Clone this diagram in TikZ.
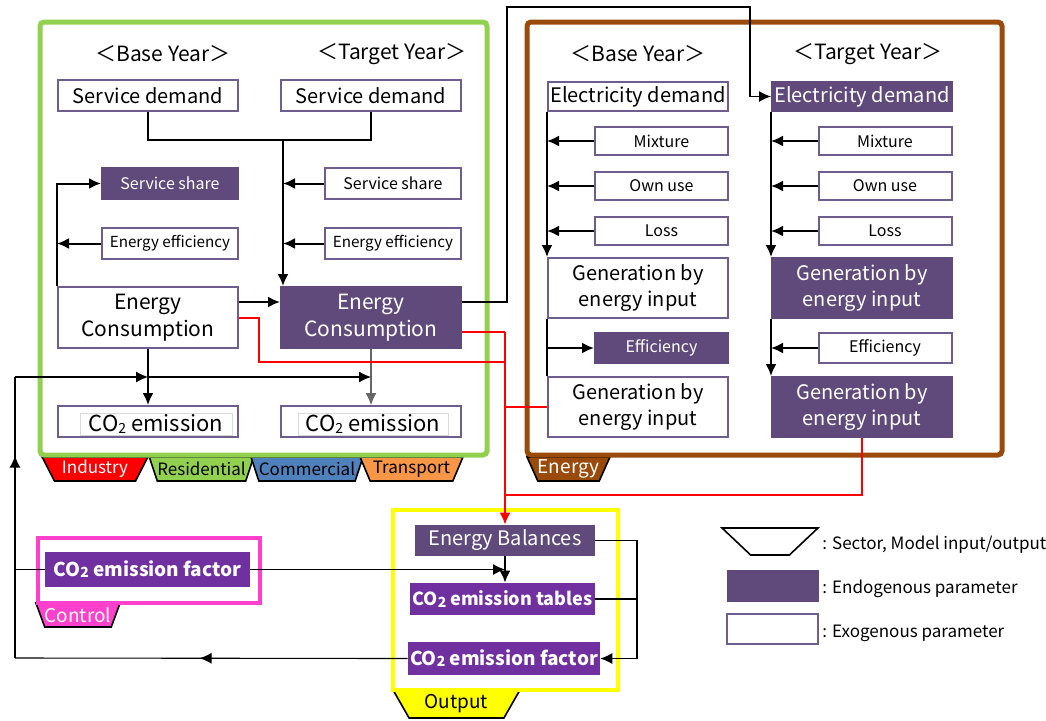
\documentclass[tikz,border=0pt]{standalone}
\usepackage{fontspec}
\setmainfont{Noto Sans CJK JP}
\usepackage{tikz}
\usetikzlibrary{arrows.meta,calc,shapes.geometric,decorations.markings}
\definecolor{secGreen}{HTML}{92D050}
\definecolor{enBrown}{HTML}{9A4A0A}
\definecolor{ctlPink}{HTML}{FF40CC}
\definecolor{outYellow}{HTML}{FFFF00}
\definecolor{parFill}{HTML}{5F4A7B}
\definecolor{parLine}{HTML}{705D90}
\definecolor{ctlPurple}{HTML}{7030A0}
\definecolor{tabBlue}{HTML}{4F81BD}
\definecolor{tabOrange}{HTML}{F79646}
\newcommand{\cotwo}{CO{\scriptsize\raisebox{-.15ex}{2}}}

\begin{document}
\begin{tikzpicture}[x=.5pt,y=-.5pt,font=\fontsize{10}{12}\selectfont]
  \tikzset{exo/.style={draw=parLine,line width=1pt,fill=white,inner sep=1pt,align=center},
    endo/.style={draw=parFill,line width=1pt,fill=parFill,text=white,inner sep=1pt,align=center},
    outp/.style={fill=ctlPurple,text=white,inner sep=1pt,font=\fontsize{9.5}{11}\selectfont\bfseries},
    small/.style={font=\fontsize{8}{9}\selectfont,minimum width=66.5pt,minimum height=14pt},
    tab/.style={trapezium,trapezium stretches=true,shape border rotate=180,trapezium angle=60,draw=black,line width=.8pt,inner sep=0pt,minimum height=12pt,font=\fontsize{8.5}{10}\selectfont},
    ln/.style={line width=1pt},
    thinln/.style={line width=.55pt},
    redln/.style={draw=red,line width=1pt},
    arr/.style={-{Latex[length=6pt,width=5.5pt]}},
    midarr/.style={postaction={decorate},decoration={markings,mark=at position #1 with {\arrow{Latex[length=6pt,width=5.5pt]}}}}}
  \useasboundingbox (0,0) rectangle (1046,720);

  % sector tabs and frames
  \node[tab,fill=red,text=white,minimum width=53pt] (tInd) at (95,469) {Industry};
  \node[tab,fill=secGreen,minimum width=52pt] (tRes) at (201.5,469) {Residential};
  \node[tab,fill=tabBlue,minimum width=51pt] (tCom) at (307,469) {Commercial};
  \node[tab,fill=tabOrange,minimum width=51.5pt] (tTra) at (411.5,469) {Transport};
  \node[tab,fill=enBrown,text=white,minimum width=41.5pt,font=\fontsize{9.5}{11}\selectfont] (tEn) at (568.5,469) {Energy};
  \node[tab,fill=ctlPink,text=white,minimum width=40pt,font=\fontsize{9.5}{11}\selectfont] (tCtl) at (78,615) {Control};
  \node[tab,fill=outYellow,minimum width=63.5pt,minimum height=14pt,font=\fontsize{9.5}{11}\selectfont] (tOut) at (456.5,704) {Output};
  \draw[secGreen,line width=2.5pt,rounded corners=2pt] (40,22) rectangle (487,455);
  \draw[enBrown,line width=2.5pt,rounded corners=2pt] (527,22) rectangle (1002,455);
  \draw[ctlPink,line width=1.8pt] (38,538) rectangle (260,603);
  \draw[outYellow,line width=2.2pt] (393,510) rectangle (618,690);

  % demand side
  \node[font=\fontsize{10.5}{12}\selectfont] (yrB) at (163,54) {＜Base Year＞};
  \node[font=\fontsize{10.5}{12}\selectfont] (yrT) at (392,54) {＜Target Year＞};
  \node[exo,minimum width=90pt,minimum height=15.5pt] (sdB) at (148,95.5) {Service demand};
  \node[exo,minimum width=90pt,minimum height=15.5pt] (sdT) at (371,95.5) {Service demand};
  \node[endo,small,minimum width=68pt,minimum height=15.5pt] (shareB) at (170,183.5) {Service share};
  \node[exo,small,minimum width=68pt,minimum height=15.5pt,font=\fontsize{7.6}{9}\selectfont] (effB) at (170,243.5) {Energy efficiency};
  \node[exo,small,minimum width=68pt,minimum height=15.5pt] (shareT) at (393,183.5) {Service share};
  \node[exo,small,minimum width=68pt,minimum height=15.5pt,font=\fontsize{7.6}{9}\selectfont] (effT) at (393,243.5) {Energy efficiency};
  \node[exo,minimum width=90pt,minimum height=30.5pt,font=\fontsize{10.5}{13}\selectfont] (ecB) at (148,317.5) {\raisebox{-2pt}{\shortstack{Energy\\Consumption}}};
  \node[endo,minimum width=90pt,minimum height=30.5pt,font=\fontsize{10.5}{13}\selectfont] (ecT) at (371,317.5) {\raisebox{-2pt}{\shortstack{Energy\\Consumption}}};
  \node[exo,minimum width=90pt,minimum height=15.5pt] (coB) at (148,421.5) {};
  \node[exo,minimum width=90pt,minimum height=15.5pt] (coT) at (371,421.5) {};
  \node[draw=gray!30,line width=.4pt,minimum width=76pt,minimum height=11pt,inner sep=0pt,font=\fontsize{11}{12}\selectfont] (coBtx) at (156,424) {\cotwo\ emission};
  \node[draw=gray!30,line width=.4pt,minimum width=75pt,minimum height=11pt,inner sep=0pt,font=\fontsize{11}{12}\selectfont] (coTtx) at (373,424) {\cotwo\ emission};

  % energy side
  \node[font=\fontsize{10.5}{12}\selectfont] (yrEB) at (638,54) {＜Base Year＞};
  \node[font=\fontsize{10.5}{12}\selectfont] (yrET) at (868,54) {＜Target Year＞};
  \node[exo,minimum width=90pt,minimum height=14.5pt] (edB) at (638,96.5) {Electricity demand};
  \node[endo,minimum width=90pt,minimum height=14.5pt] (edT) at (862,96.5) {Electricity demand};
  \node[exo,small] (mixB) at (661.5,141) {Mixture};
  \node[exo,small] (ownB) at (661.5,186) {Own use};
  \node[exo,small] (lossB) at (661.5,231) {Loss};
  \node[exo,small] (mixT) at (885,141) {Mixture};
  \node[exo,small] (ownT) at (885,186) {Own use};
  \node[exo,small] (lossT) at (885,231) {Loss};
  \node[exo,minimum width=90pt,minimum height=30pt,font=\fontsize{10}{12.5}\selectfont] (genB) at (638,288) {\raisebox{-2pt}{\shortstack{Generation by\\energy input}}};
  \node[endo,minimum width=90pt,minimum height=30pt,font=\fontsize{10}{12.5}\selectfont] (genT) at (862,288) {\raisebox{-2pt}{\shortstack{Generation by\\energy input}}};
  \node[endo,small,minimum height=15pt] (effeB) at (661.5,348) {Efficiency};
  \node[exo,small,minimum height=15pt] (effeT) at (885,348) {Efficiency};
  \node[exo,minimum width=90pt,minimum height=30pt,font=\fontsize{10}{12.5}\selectfont] (gen2B) at (638,407) {\raisebox{-2pt}{\shortstack{Generation by\\energy input}}};
  \node[endo,minimum width=90pt,minimum height=30pt,font=\fontsize{10}{12.5}\selectfont] (gen2T) at (862,407) {\raisebox{-2pt}{\shortstack{Generation by\\energy input}}};

  % control and output
  \node[outp,minimum width=102.5pt,minimum height=17.5pt] (cofCtl) at (147.5,569.5) {\cotwo\ emission factor};
  \node[fill=parFill,text=white,inner sep=1pt,minimum width=90pt,minimum height=15.5pt] (eb) at (505,540.5) {Energy Balances};
  \node[outp,minimum width=92.5pt,minimum height=16pt,font=\fontsize{9}{11}\selectfont\bfseries] (cotab) at (502.5,599) {\cotwo\ emission tables};
  \node[outp,minimum width=94pt,minimum height=16.5pt] (cofOut) at (504,658.5) {\cotwo\ emission factor};

  % legend
  \node[tab,fill=white,minimum width=48pt,minimum height=13.5pt] (legTab) at (770,541.5) {\phantom{X}};
  \node[endo,minimum width=45pt,minimum height=15pt] (legEndo) at (773,586) {};
  \node[exo,minimum width=45.5pt,minimum height=15pt] (legExo) at (772.5,629) {};
  \node[anchor=west,inner sep=0pt,font=\fontsize{8.5}{10}\selectfont] (legTabTx) at (822,545) {: Sector, Model input/output};
  \node[anchor=west,inner sep=0pt,font=\fontsize{8.5}{10}\selectfont] (legEndoTx) at (822,589) {: Endogenous parameter};
  \node[anchor=west,inner sep=0pt,font=\fontsize{8.5}{10}\selectfont] (legExoTx) at (822,633) {: Exogenous parameter};

  % connectors, demand side
  \coordinate (jn) at (283,140);
  \draw[ln] (sdB.south) |- (sdT.south |- jn) -- (sdT.south);
  \draw[ln,arr] (jn) -- (jn |- ecT.north);
  \draw[ln,arr] (shareT.west) -- (shareT.west -| jn);
  \draw[ln,arr] (effT.west) -- (effT.west -| jn);
  \draw[ln,arr] (ecB.north west) |- (shareB.west);
  \draw[ln,arr] (effB.west) -- (effB.west -| ecB.west);
  \draw[ln,arr] ([yshift=7.75pt]ecB.east) -- ([yshift=7.75pt]ecT.west);
  \draw[ln,arr] (ecB.south) -- (coB.north);
  \draw[thinln,draw=gray!80!black,arr] (ecT.south) -- (coT.north);

  % connectors, energy side
  \draw[ln,arr] (edB.south west) -- (genB.north west);
  \draw[ln,arr] (edT.south west) -- (genT.north west);
  \foreach \src/\dst in {mixB/edB,ownB/edB,lossB/edB,mixT/edT,ownT/edT,lossT/edT,effeT/genT}
    \draw[ln,arr] (\src.west) -- (\src.west -| \dst.west);
  \draw[ln] (genB.south west) -- (gen2B.north west);
  \draw[ln,arr] (effeB.west -| genB.west) -- (effeB.west);
  \draw[ln,arr] (genT.south west) -- (gen2T.north west);
  \coordinate (tp) at (507,7);
  \coordinate (tq) at (750,7);
  \draw[thinln,arr] ([yshift=7.75pt]ecT.east) -| (tp) -- (tq) |- (edT.west);

  % red flows to the energy balances
  \coordinate (rtop) at (505,332);
  \draw[redln] (ecT.east |- rtop) -- (rtop);
  \draw[redln] (ecB.east) -- ++(20,0) |- (rtop |- 0,362);
  \draw[redln] (gen2B.west) -- (gen2B.west -| rtop);
  \draw[redln] (gen2T.south) |- (rtop |- 0,495);
  \draw[redln,arr] (rtop) -- (eb.north);

  % emission factor loop
  \coordinate (cnBL) at (15,658);
  \coordinate (cnTL) at (15,377);
  \draw[thinln,midarr=.53] (cofOut.west) -- (cnBL);
  \draw[thinln,midarr=.72] (cnBL) -- (cnTL);
  \draw[thinln,arr] (cnTL) -- (cnTL -| coB.north);
  \draw[thinln,arr] (cnTL -| coB.north) -- (cnTL -| coT.north);
  \draw[thinln] (cofCtl.west) -- (cofCtl.west -| cnBL);
  \draw[thinln,arr] (cofCtl.east) -- (cofCtl.east -| eb.south);
  \draw[ln,arr] (eb.south) -- (eb.south |- cotab.north);
  \coordinate (brk) at (637,541);
  \draw[thinln,arr] (eb.east) -| (brk |- cofOut.east) -- (cofOut.east);
  \draw[thinln] (cotab.east) -- (cotab.east -| brk);
\end{tikzpicture}
\end{document}
